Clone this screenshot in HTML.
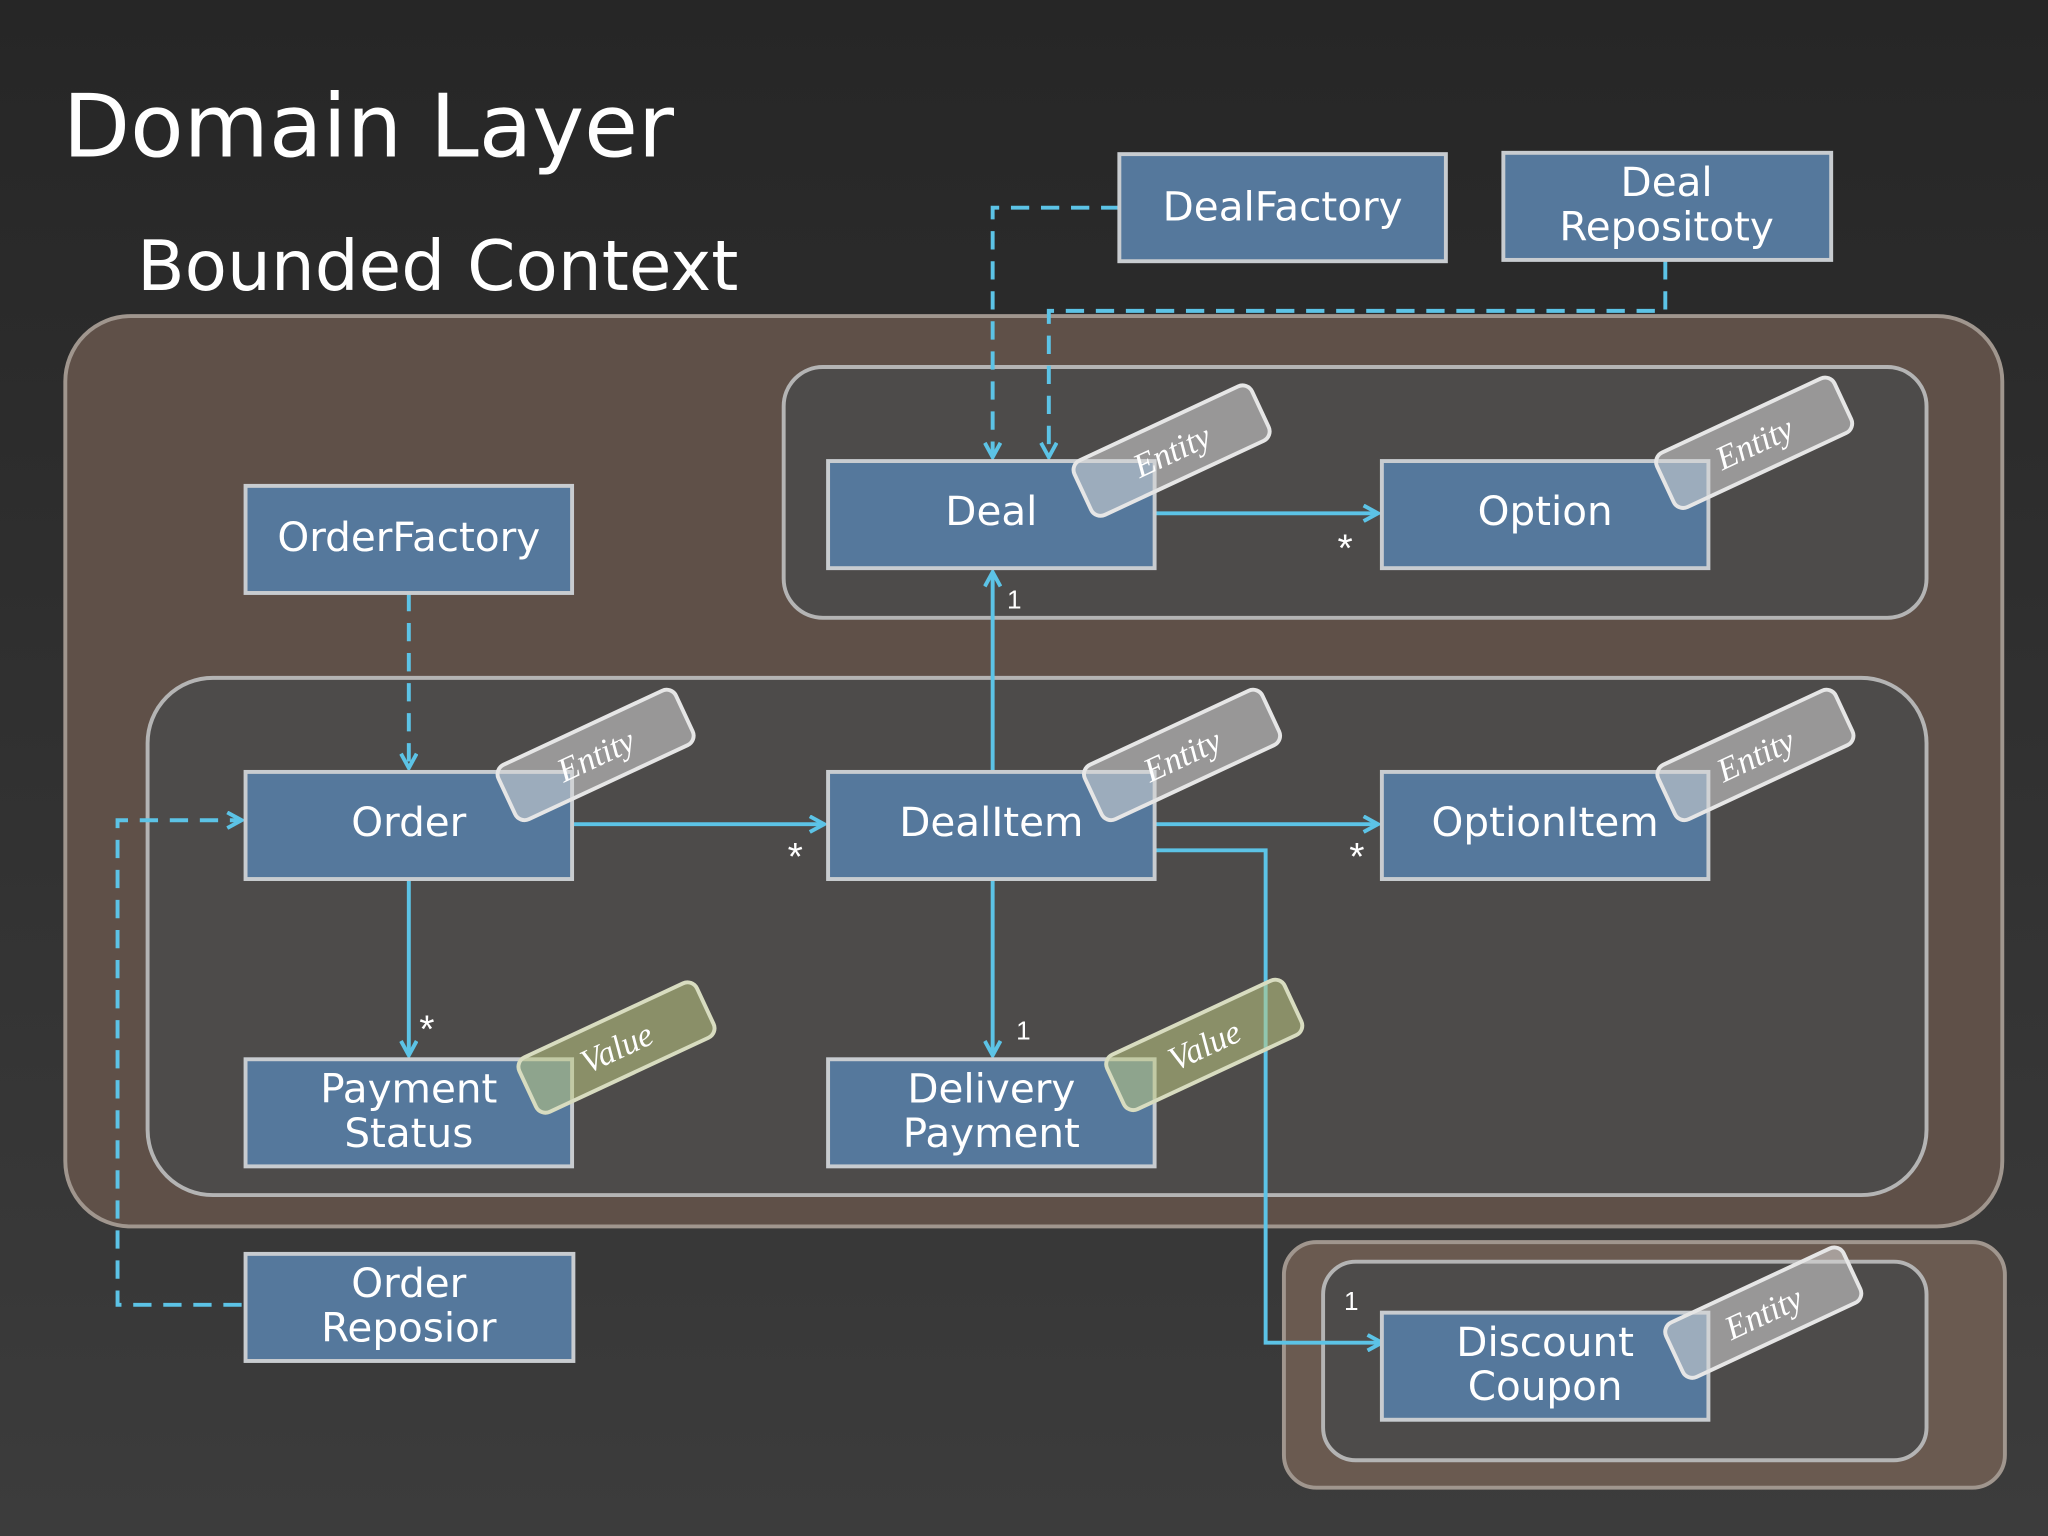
<!DOCTYPE html>
<html><head><meta charset="utf-8"><style>
html,body{margin:0;padding:0;background:#2b2b2b;}
svg{display:block;}
.bx{fill:#55789c;stroke:#c8ccd0;stroke-width:3;}
.bt{font-family:"DejaVu Sans","Liberation Sans",sans-serif;font-size:31px;fill:#fff;text-anchor:middle;}
.tag{fill:rgba(215,215,215,0.55);stroke:#e6e6e6;stroke-width:3;}
.vtag{fill:rgba(190,200,130,0.55);stroke:#d8dcc0;stroke-width:3;}
.tt{font-family:"Liberation Serif",serif;font-style:italic;font-size:26px;fill:#fff;text-anchor:middle;}
.ln{stroke:#5cc3e6;stroke-width:3;fill:none;}
.dl{stroke:#5cc3e6;stroke-width:3;fill:none;stroke-dasharray:14,9;}
.lb{font-family:"Liberation Sans",sans-serif;font-size:20px;fill:#fff;}
.st{font-family:"Liberation Sans",sans-serif;font-size:30px;fill:#fff;}
</style></head><body>
<svg width="2048" height="1536" viewBox="0 0 1568 1176" xmlns="http://www.w3.org/2000/svg">
<defs>
<linearGradient id="bg" x1="0" y1="0" x2="0" y2="1"><stop offset="0" stop-color="#262626"/><stop offset="1" stop-color="#3c3c3c"/></linearGradient>
<marker id="ar" markerWidth="14" markerHeight="14" refX="12" refY="7" orient="auto" markerUnits="userSpaceOnUse"><path d="M1,1 L12,7 L1,13" fill="none" stroke="#5cc3e6" stroke-width="3"/></marker>
</defs>
<rect width="1568" height="1176" fill="url(#bg)"/>
<text x="48" y="120" font-family="DejaVu Sans, sans-serif" font-size="67" fill="#fff">Domain Layer</text>
<text x="105" y="222" font-family="DejaVu Sans, sans-serif" font-size="53" fill="#fff">Bounded Context</text>

<rect x="50" y="242" width="1483" height="697" rx="50" fill="#5f5048" stroke="#a0968e" stroke-width="3"/>
<rect x="600" y="281" width="875" height="192" rx="30" fill="#4d4b4a" stroke="#b4b4b4" stroke-width="3"/>
<rect x="113" y="519" width="1362" height="396" rx="50" fill="#4d4b4a" stroke="#b4b4b4" stroke-width="3"/>
<rect x="983" y="951" width="552" height="188" rx="25" fill="#6a5a50" stroke="#a0968e" stroke-width="3"/>
<rect x="1013" y="966" width="462" height="152" rx="25" fill="#4d4b4a" stroke="#b4b4b4" stroke-width="3"/>

<path class="dl" d="M857,159 H760 V350" marker-end="url(#ar)"/>
<path class="dl" d="M1275,200 V238 H803 V350" marker-end="url(#ar)"/>
<path class="dl" d="M313,454 V588" marker-end="url(#ar)"/>
<path class="dl" d="M185,999 H90 V628 H185" marker-end="url(#ar)"/>
<path class="ln" d="M884,393 H1055" marker-end="url(#ar)"/>
<path class="ln" d="M760,591 V438" marker-end="url(#ar)"/>
<path class="ln" d="M438,631 H631" marker-end="url(#ar)"/>
<path class="ln" d="M884,631 H1055" marker-end="url(#ar)"/>
<path class="ln" d="M884,651 H969 V1028 H1058" marker-end="url(#ar)"/>
<path class="ln" d="M313,673 V808" marker-end="url(#ar)"/>
<path class="ln" d="M760,673 V808" marker-end="url(#ar)"/>
<text class="st" x="1024" y="430">*</text>
<text class="st" x="603" y="666">*</text>
<text class="st" x="1033" y="666">*</text>
<text class="st" x="321" y="798">*</text>
<text class="lb" x="771" y="466">1</text>
<text class="lb" x="778" y="796">1</text>
<text class="lb" x="1029" y="1003">1</text>

<rect class="bx" x="857" y="118" width="250" height="82"/><text class="bt" x="982" y="169">DealFactory</text>
<rect class="bx" x="1151" y="117" width="251" height="82"/><text class="bt" x="1276" y="150">Deal</text><text class="bt" x="1276" y="184">Repositoty</text>
<rect class="bx" x="188" y="372" width="250" height="82"/><text class="bt" x="313" y="422">OrderFactory</text>
<rect class="bx" x="634" y="353" width="250" height="82"/><text class="bt" x="759" y="402">Deal</text>
<rect class="bx" x="1058" y="353" width="250" height="82"/><text class="bt" x="1183" y="402">Option</text>
<rect class="bx" x="188" y="591" width="250" height="82"/><text class="bt" x="313" y="640">Order</text>
<rect class="bx" x="634" y="591" width="250" height="82"/><text class="bt" x="759" y="640">DealItem</text>
<rect class="bx" x="1058" y="591" width="250" height="82"/><text class="bt" x="1183" y="640">OptionItem</text>
<rect class="bx" x="188" y="811" width="250" height="82"/><text class="bt" x="313" y="844">Payment</text><text class="bt" x="313" y="878">Status</text>
<rect class="bx" x="634" y="811" width="250" height="82"/><text class="bt" x="759" y="844">Delivery</text><text class="bt" x="759" y="878">Payment</text>
<rect class="bx" x="188" y="960" width="251" height="82"/><text class="bt" x="313" y="993">Order</text><text class="bt" x="313" y="1027">Reposior</text>
<rect class="bx" x="1058" y="1005" width="250" height="82"/><text class="bt" x="1183" y="1038">Discount</text><text class="bt" x="1183" y="1072">Coupon</text>

<g transform="translate(897,345) rotate(-25)"><rect class="tag" x="-75" y="-23" width="150" height="46" rx="8"/><text class="tt" x="0" y="9">Entity</text></g>
<g transform="translate(1343,339) rotate(-25)"><rect class="tag" x="-75" y="-23" width="150" height="46" rx="8"/><text class="tt" x="0" y="9">Entity</text></g>
<g transform="translate(456,578) rotate(-25)"><rect class="tag" x="-75" y="-23" width="150" height="46" rx="8"/><text class="tt" x="0" y="9">Entity</text></g>
<g transform="translate(905,578) rotate(-25)"><rect class="tag" x="-75" y="-23" width="150" height="46" rx="8"/><text class="tt" x="0" y="9">Entity</text></g>
<g transform="translate(1344,578) rotate(-25)"><rect class="tag" x="-75" y="-23" width="150" height="46" rx="8"/><text class="tt" x="0" y="9">Entity</text></g>
<g transform="translate(472,802) rotate(-25)"><rect class="vtag" x="-75" y="-23" width="150" height="46" rx="8"/><text class="tt" x="0" y="9">Value</text></g>
<g transform="translate(922,800) rotate(-25)"><rect class="vtag" x="-75" y="-23" width="150" height="46" rx="8"/><text class="tt" x="0" y="9">Value</text></g>
<g transform="translate(1350,1005) rotate(-25)"><rect class="tag" x="-75" y="-23" width="150" height="46" rx="8"/><text class="tt" x="0" y="9">Entity</text></g>
</svg>
</body></html>
